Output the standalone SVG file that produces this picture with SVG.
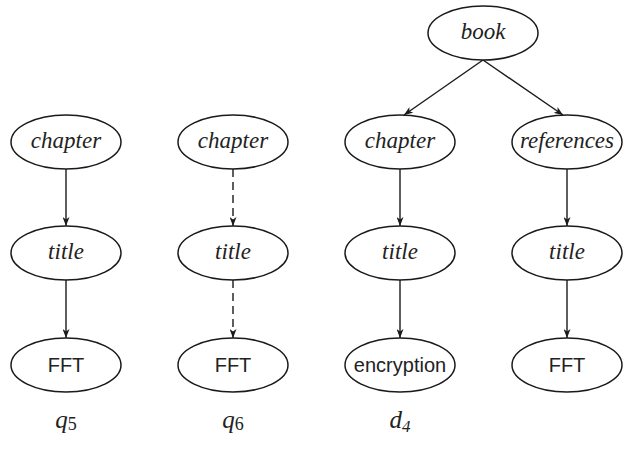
<svg xmlns="http://www.w3.org/2000/svg" width="624" height="450" viewBox="0 0 624 450">
<style>
.n ellipse{fill:#fff;stroke:#1a1a1a;stroke-width:1.5}
.it{font-family:"Liberation Serif",serif;font-style:italic;font-size:23px;fill:#222;text-anchor:middle}
.sf{font-family:"Liberation Sans",Arial,sans-serif;font-size:20px;fill:#222;text-anchor:middle}
.lb{font-family:"Liberation Serif",serif;font-style:italic;font-size:25px;fill:#222;text-anchor:middle}
.e{stroke:#1a1a1a;stroke-width:1.4;fill:none;marker-end:url(#ah)}
.d{stroke-dasharray:8 5}
</style>
<defs>
<marker id="ah" viewBox="0 0 9 7" refX="9" refY="3.5" markerWidth="9" markerHeight="7" markerUnits="userSpaceOnUse" orient="auto">
<path d="M0,0 L9,3.5 L0,7 L2.5,3.5 z" fill="#1a1a1a"/>
</marker>
</defs>
<g id="edges">
<line class="e" x1="66" y1="169" x2="66" y2="226"/>
<line class="e" x1="66" y1="280" x2="66" y2="338"/>
<line class="e d" x1="233" y1="169" x2="233" y2="226"/>
<line class="e d" x1="233" y1="280" x2="233" y2="338"/>
<line class="e" x1="483" y1="60" x2="404" y2="115"/>
<line class="e" x1="483" y1="60" x2="563" y2="115"/>
<line class="e" x1="400" y1="169" x2="400" y2="226"/>
<line class="e" x1="400" y1="280" x2="400" y2="338"/>
<line class="e" x1="567" y1="169" x2="567" y2="226"/>
<line class="e" x1="567" y1="280" x2="567" y2="338"/>
</g>
<g id="q5-chapter" class="n"><ellipse cx="66" cy="142" rx="55" ry="27"/><text class="it" x="66" y="148">chapter</text></g>
<g id="q5-title" class="n"><ellipse cx="66" cy="253" rx="55" ry="27"/><text class="it" x="66" y="259">title</text></g>
<g id="q5-fft" class="n"><ellipse cx="66" cy="365" rx="55" ry="27"/><text class="sf" x="66" y="372">FFT</text></g>
<g id="q6-chapter" class="n"><ellipse cx="233" cy="142" rx="55" ry="27"/><text class="it" x="233" y="148">chapter</text></g>
<g id="q6-title" class="n"><ellipse cx="233" cy="253" rx="55" ry="27"/><text class="it" x="233" y="259">title</text></g>
<g id="q6-fft" class="n"><ellipse cx="233" cy="365" rx="55" ry="27"/><text class="sf" x="233" y="372">FFT</text></g>
<g id="d4-book" class="n"><ellipse cx="483" cy="33" rx="55" ry="27"/><text class="it" x="483" y="39">book</text></g>
<g id="d4-chapter" class="n"><ellipse cx="400" cy="142" rx="55" ry="27"/><text class="it" x="400" y="148">chapter</text></g>
<g id="d4-references" class="n"><ellipse cx="567" cy="142" rx="55" ry="27"/><text class="it" x="567" y="148">references</text></g>
<g id="d4-title1" class="n"><ellipse cx="400" cy="253" rx="55" ry="27"/><text class="it" x="400" y="259">title</text></g>
<g id="d4-title2" class="n"><ellipse cx="567" cy="253" rx="55" ry="27"/><text class="it" x="567" y="259">title</text></g>
<g id="d4-encryption" class="n"><ellipse cx="400" cy="365" rx="55" ry="27"/><text class="sf" x="400" y="372" font-size="21">encryption</text></g>
<g id="d4-fft" class="n"><ellipse cx="567" cy="365" rx="55" ry="27"/><text class="sf" x="567" y="372">FFT</text></g>
<g id="labels">
<text class="lb" x="66" y="428">q<tspan font-size="18" font-style="normal" dy="2">5</tspan></text>
<text class="lb" x="233" y="428">q<tspan font-size="18" font-style="normal" dy="2">6</tspan></text>
<text class="lb" x="400" y="428">d<tspan font-size="17" dy="4">4</tspan></text>
</g>
</svg>
